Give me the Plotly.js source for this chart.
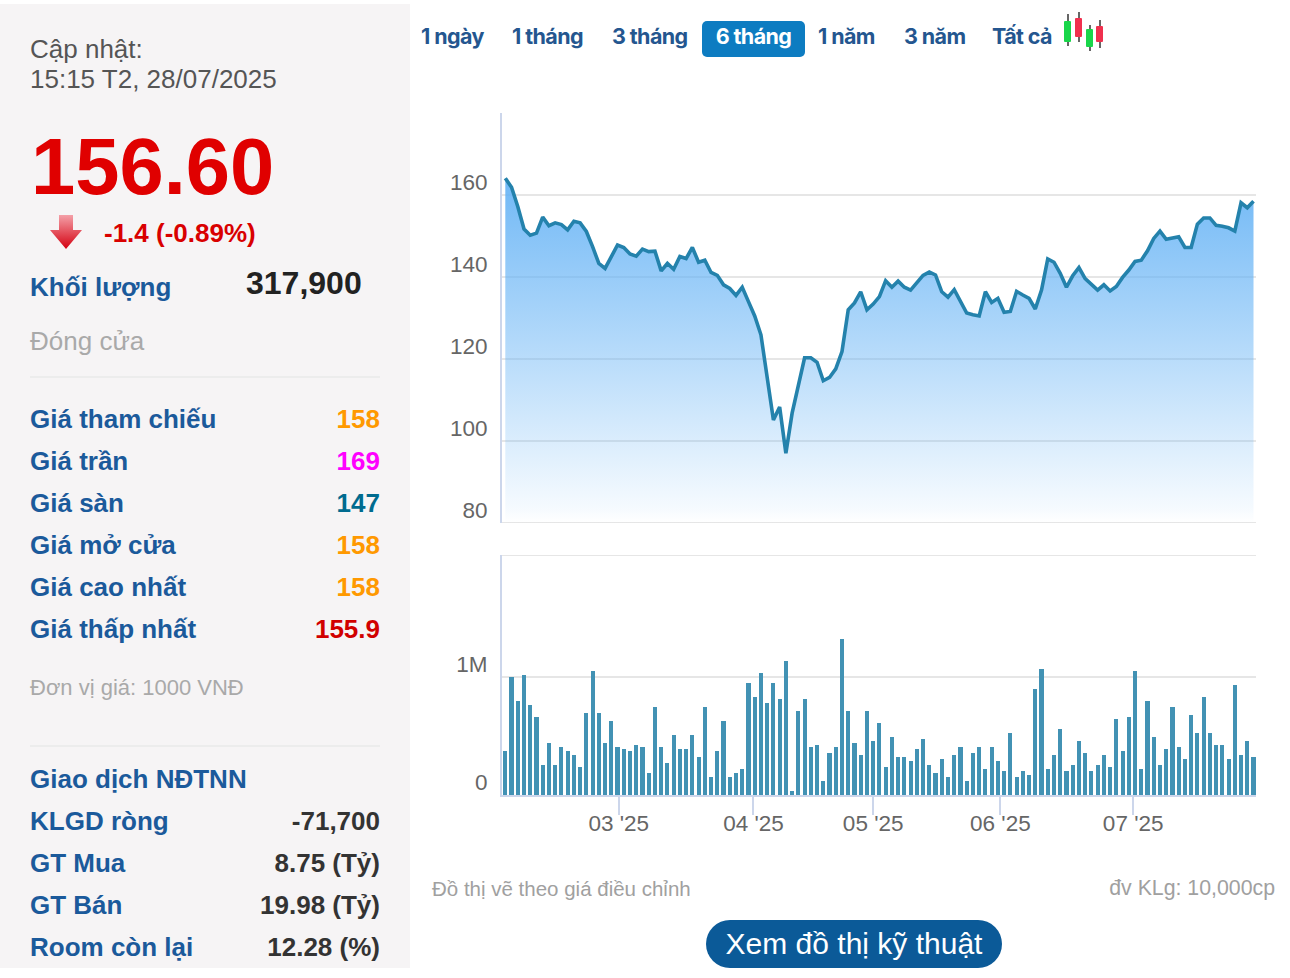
<!DOCTYPE html>
<html lang="vi">
<head>
<meta charset="utf-8">
<script src="https://cdn.plot.ly/plotly-3.0.1.min.js"></script>
<style>
html,body{margin:0;padding:0;background:#fff;width:1290px;height:978px;overflow:hidden;font-family:"Liberation Sans",Arial,sans-serif}
#side{position:absolute;left:0;top:4px;width:410px;height:964px;background:#f6f4f5}
#chart{position:absolute;left:0;top:0;width:1290px;height:978px}
.t{position:absolute;white-space:nowrap;line-height:1;transform:translateY(-50%)}
.r{transform:translate(-100%,-50%)}
.lab{left:30px;font-size:26px;font-weight:700;color:#1b5a9b}
.val{left:380px;font-size:26px;font-weight:700}
.hr{position:absolute;left:30px;width:350px;height:2px;background:#ececec}
.tab{position:absolute;top:21px;height:36px;line-height:30px;font-family:Inter,sans-serif;font-weight:700;font-size:21.5px;letter-spacing:-.6px;color:#24568f;white-space:nowrap;text-align:center}
.on{background:#0d7cc1;color:#fff;border-radius:5px}
#btn{position:absolute;left:706px;top:920px;width:296px;height:48px;border-radius:24px;background:#0b5a98;color:#fff;font-size:30px;line-height:48px;text-align:center;white-space:nowrap}
.c{position:absolute;width:7px;border-radius:1px}
.w{position:absolute;width:1.5px;background:#666}
</style>
</head>
<body>
<div id="side"></div>
<div id="chart"></div>

<div class="t" style="left:30px;top:49px;font-size:26px;color:#555">Cập nhật:</div>
<div class="t" style="left:30px;top:79px;font-size:26px;color:#555">15:15 T2, 28/07/2025</div>
<div class="t" style="left:31px;top:167px;font-size:79.5px;font-weight:700;color:#e00000">156.60</div>
<svg style="position:absolute;left:48px;top:213px" width="36" height="38" viewBox="0 0 36 38">
<defs><linearGradient id="ag" x1="0" y1="0" x2="0" y2="1"><stop offset="0" stop-color="#f4a0a8"/><stop offset="1" stop-color="#d40010"/></linearGradient></defs>
<path d="M11 2H25V17H34L18 36L2 17H11Z" fill="url(#ag)"/></svg>
<div class="t" style="left:104px;top:233px;font-size:26px;font-weight:700;color:#d90000">-1.4 (-0.89%)</div>
<div class="t lab" style="top:287px">Khối lượng</div>
<div class="t" style="left:246px;top:283px;font-size:32px;font-weight:700;color:#222">317,900</div>
<div class="t" style="left:30px;top:341px;font-size:26px;color:#a9a9a9">Đóng cửa</div>
<div class="hr" style="top:376px"></div>
<div id="rows"></div>
<div class="t" style="left:30px;top:688px;font-size:22px;color:#a9a9a9">Đơn vị giá: 1000 VNĐ</div>
<div class="hr" style="top:745px"></div>
<div class="t lab" style="top:779px">Giao dịch NĐTNN</div>

<div id="tabs"></div>
<div class="w" style="left:1067px;top:14px;height:32px"></div>
<div class="w" style="left:1078px;top:12px;height:30px"></div>
<div class="w" style="left:1089px;top:25px;height:26px"></div>
<div class="w" style="left:1099px;top:20px;height:28px"></div>
<div class="c" style="left:1064px;top:21px;height:21px;background:#19d64a"></div>
<div class="c" style="left:1075px;top:18px;height:19px;background:#f0304e"></div>
<div class="c" style="left:1086px;top:29px;height:18px;background:#19d64a"></div>
<div class="c" style="left:1096px;top:26px;height:16px;background:#f0304e"></div>

<div class="t" style="left:432px;top:889px;font-size:20.5px;color:#a0a0a0">Đồ thị vẽ theo giá điều chỉnh</div>
<div class="t r" style="left:1275px;top:889px;font-size:21.3px;color:#a0a0a0">đv KLg: 10,000cp</div>
<div id="btn">Xem đồ thị kỹ thuật</div>

<script>
const priceValues = [164.1,161.9,157.2,151.7,150.2,150.7,154.6,152.5,153.2,152.8,151.5,153.6,153.2,151.1,147.4,143.3,142.1,145.1,147.8,147.2,
145.6,145.1,146.8,146.2,146.3,141.5,143.3,141.9,145.0,144.5,147.2,143.6,144.1,141.1,140.4,138.1,137.2,135.5,137.5,134.0,
130.5,125.9,115.7,105.1,108.3,97.0,106.8,114.0,120.3,120.3,119.2,114.7,115.5,117.6,121.8,132.0,133.7,136.4,132.0,133.4,
135.2,139.1,137.5,139.0,137.5,136.8,138.6,140.4,141.2,140.5,136.4,135.1,136.9,134.0,131.2,130.8,130.5,136.4,133.8,134.8,
131.4,131.6,136.5,135.6,134.8,132.2,136.8,144.4,143.6,140.9,137.5,140.3,142.3,139.6,138.2,136.8,138.1,136.6,137.7,139.9,
141.7,143.8,144.1,146.4,149.4,151.2,149.2,149.5,149.8,147.2,147.2,152.9,154.4,154.4,152.6,152.4,152.0,151.2,158.1,156.9,158.5];

const volumeThousands = [373,1000,797,1017,763,661,254,441,254,407,373,339,237,695,1051,695,441,627,407,390,
373,424,407,186,746,407,271,508,390,390,508,322,746,153,373,627,153,186,220,949,
831,1034,780,949,814,1136,34,712,814,407,424,119,356,407,1322,712,441,339,712,458,
610,237,492,322,322,288,390,475,254,186,305,153,339,407,119,356,407,220,407,288,
203,525,153,203,169,898,1068,220,339,559,203,254,458,356,203,254,339,237,644,373,
661,1051,220,797,492,254,390,746,407,305,678,525,831,525,424,424,305,932,339,458,318];

const sessionIndex = priceValues.map((_, i) => i);
const monthTickPositions = [18.2, 39.8, 59, 79.4, 100.7];
const monthTickLabels = ["03 '25", "04 '25", "05 '25", "06 '25", "07 '25"];
const priceTicks = [80, 100, 120, 140, 160];
const volumeTicks = [0, 1000];
const volumeTickLabels = ["0", "1M"];
const volumeTop = 2034;

const tabLabels = ["1 ngày","1 tháng","3 tháng","6 tháng","1 năm","3 năm","Tất cả"];
const tabLefts = [421,512,612,702,818,904,992];
const tabWidths = [65,73,77,103,59,62,60];
const quoteLabels = ["Giá tham chiếu","Giá trần","Giá sàn","Giá mở cửa","Giá cao nhất","Giá thấp nhất"];
const quoteValues = ["158","169","147","158","158","155.9"];
const quoteColors = ["#ff9900","#ff00ff","#006b8f","#ff9900","#ff9900","#d10000"];
const foreignLabels = ["KLGD ròng","GT Mua","GT Bán","Room còn lại"];
const foreignValues = ["-71,700","8.75 (Tỷ)","19.98 (Tỷ)","12.28 (%)"];

let rowsHtml = "";
quoteLabels.forEach((l,i)=>{const y=419+42*i;
 rowsHtml+=`<div class="t lab" style="top:${y}px">${l}</div><div class="t r val" style="top:${y}px;color:${quoteColors[i]}">${quoteValues[i]}</div>`;});
foreignLabels.forEach((l,i)=>{const y=821+42*i;
 rowsHtml+=`<div class="t lab" style="top:${y}px">${l}</div><div class="t r val" style="top:${y}px;color:#333">${foreignValues[i]}</div>`;});
document.getElementById("rows").innerHTML=rowsHtml;
document.getElementById("tabs").innerHTML=tabLabels.map((l,i)=>
 `<div class="tab${i===3?' on':''}" style="left:${tabLefts[i]}px;${i===3?`width:${tabWidths[i]}px`:''}">${l}</div>`).join("");

const W=1290,H=978;
const priceTrace={type:"scatter",mode:"lines",x:sessionIndex,y:priceValues,xaxis:"x",yaxis:"y",
 line:{color:"#2482ac",width:3.6,shape:"linear"},fill:"tozeroy",
 fillgradient:{type:"vertical",start:80,stop:164,
  colorscale:[[0,"rgba(100,178,245,0)"],[0.04,"rgba(100,178,245,0.06)"],[1,"rgba(100,178,245,0.92)"]]},hoverinfo:"skip"};
const volumeTrace={type:"bar",x:sessionIndex,y:volumeThousands,xaxis:"x",yaxis:"y2",
 width:0.66,marker:{color:"#4292b4",line:{width:0}},hoverinfo:"skip"};
const tickFont={family:'"Liberation Sans",Arial,sans-serif',size:22.5,color:"#666"};
const edgeLine={color:"#e6e6e6",width:2};
const layout={width:W,height:H,margin:{l:0,r:0,t:0,b:0},paper_bgcolor:"rgba(0,0,0,0)",plot_bgcolor:"rgba(0,0,0,0)",
 showlegend:false,bargap:0,
 shapes:[
  {type:"line",xref:"x domain",yref:"y",x0:0,x1:1,y0:80,y1:80,line:edgeLine,layer:"below"},
  {type:"line",xref:"x domain",yref:"y2",x0:0,x1:1,y0:volumeTop,y1:volumeTop,line:edgeLine,layer:"below"}
 ],
 xaxis:{domain:[502/W,1256/W],range:[-0.53,120.4],anchor:"y2",tickmode:"array",tickvals:monthTickPositions,ticktext:monthTickLabels,
  ticks:"outside",ticklen:18,tickwidth:2,tickcolor:"#ccd6eb",tickfont:tickFont,ticklabelstandoff:-11,showgrid:false,zeroline:false,
  showline:true,linecolor:"#ccd6eb",linewidth:2,automargin:false},
 yaxis:{domain:[(H-523)/H,(H-113)/H],range:[80,180],anchor:"x",tickmode:"array",tickvals:priceTicks,
  tickfont:tickFont,ticklabelshift:-13,ticklabelstandoff:8,ticks:"",showgrid:true,gridcolor:"#e6e6e6",gridwidth:2,zeroline:false,
  showline:true,linecolor:"#ccd6eb",linewidth:2,automargin:false},
 yaxis2:{domain:[(H-795)/H,(H-555)/H],range:[0,volumeTop],anchor:"x",tickmode:"array",tickvals:volumeTicks,ticktext:volumeTickLabels,
  tickfont:tickFont,ticklabelshift:-13,ticklabelstandoff:8,ticks:"",showgrid:true,gridcolor:"#e6e6e6",gridwidth:2,zeroline:false,
  showline:true,linecolor:"#ccd6eb",linewidth:2,automargin:false}
};
Plotly.newPlot("chart",[priceTrace,volumeTrace],layout,{displayModeBar:false,staticPlot:true});
</script>
</body>
</html>
